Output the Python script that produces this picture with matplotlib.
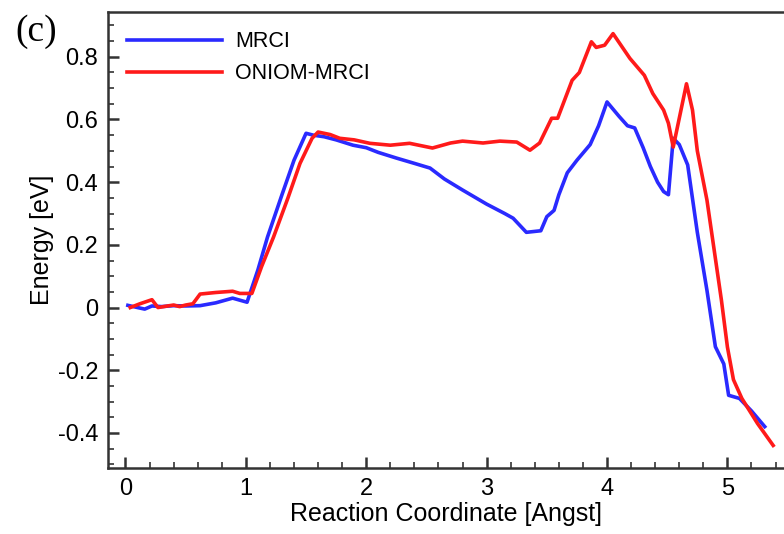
import matplotlib.pyplot as plt
import numpy as np

plt.rcParams['font.family'] = ['Liberation Sans', 'DejaVu Sans']
plt.rcParams['axes.unicode_minus'] = False

# MRCI energy profile along the reaction coordinate
mrci_x = [0.02, 0.10, 0.16, 0.22, 0.30, 0.40, 0.50, 0.62, 0.75, 0.89, 1.01,
          1.10, 1.18, 1.30, 1.40, 1.50, 1.56, 1.65, 1.75, 1.89, 2.00, 2.10,
          2.25, 2.40, 2.53, 2.65, 2.80, 3.00, 3.15, 3.22, 3.33, 3.45, 3.50,
          3.56, 3.60, 3.67, 3.75, 3.86, 3.93, 4.00, 4.10, 4.17, 4.23, 4.30,
          4.36, 4.42, 4.47, 4.51, 4.55, 4.60, 4.67, 4.75, 4.83, 4.90, 4.97,
          5.01, 5.10, 5.20, 5.31]
mrci_e = [0.007, 0.0, -0.005, 0.005, 0.003, 0.006, 0.005, 0.006, 0.015, 0.03, 0.017,
          0.12, 0.225, 0.36, 0.47, 0.556, 0.55, 0.545, 0.535, 0.518, 0.51, 0.495,
          0.477, 0.46, 0.445, 0.41, 0.375, 0.33, 0.30, 0.285, 0.24, 0.245, 0.29,
          0.31, 0.36, 0.43, 0.47, 0.52, 0.58, 0.656, 0.61, 0.58, 0.573, 0.51,
          0.45, 0.40, 0.37, 0.36, 0.54, 0.52, 0.455, 0.24, 0.055, -0.125, -0.18,
          -0.28, -0.29, -0.33, -0.38]

# ONIOM-MRCI energy profile
oniom_x = [0.04, 0.12, 0.22, 0.27, 0.35, 0.40, 0.45, 0.50, 0.56, 0.62, 0.75,
           0.89, 0.95, 1.05, 1.13, 1.23, 1.35, 1.45, 1.55, 1.60, 1.70, 1.78,
           1.90, 2.03, 2.20, 2.36, 2.55, 2.70, 2.80, 2.97, 3.11, 3.25, 3.36,
           3.44, 3.54, 3.59, 3.71, 3.77, 3.87, 3.91, 3.98, 4.05, 4.19, 4.31,
           4.38, 4.47, 4.51, 4.55, 4.66, 4.71, 4.75, 4.83, 4.95, 5.00, 5.05,
           5.12, 5.25, 5.38]
oniom_e = [0.0, 0.012, 0.025, 0.0, 0.005, 0.008, 0.003, 0.008, 0.012, 0.043, 0.048,
           0.052, 0.045, 0.045, 0.13, 0.225, 0.35, 0.46, 0.54, 0.56, 0.552, 0.54,
           0.535, 0.524, 0.518, 0.524, 0.509, 0.525, 0.531, 0.525, 0.531, 0.528, 0.502,
           0.525, 0.604, 0.604, 0.725, 0.75, 0.848, 0.83, 0.837, 0.874, 0.795, 0.741,
           0.683, 0.63, 0.588, 0.512, 0.714, 0.63, 0.5, 0.343, 0.024, -0.126, -0.23,
           -0.29, -0.37, -0.44]

xticks = [0, 1, 2, 3, 4, 5]
yticks = [-0.4, -0.2, 0, 0.2, 0.4, 0.6, 0.8]
ytick_labels = ["-0.4", "-0.2", "0", "0.2", "0.4", "0.6", "0.8"]

fig = plt.figure(figsize=(7.84, 5.34), dpi=100)
ax = fig.add_axes([108 / 784, 66 / 534, 676 / 784, 456 / 534])

ax.plot(mrci_x, mrci_e, color='#2a2aff', lw=2.6, label='MRCI')
ax.plot(oniom_x, oniom_e, color='#ff1a1a', lw=2.6, label='ONIOM-MRCI')

ax.set_xlim(-0.145, 5.47)
ax.set_ylim(-0.512, 0.943)
ax.set_xticks(xticks)
ax.set_xticklabels([str(t) for t in xticks])
ax.set_yticks(yticks)
ax.set_yticklabels(ytick_labels)
ax.set_xticks(np.arange(0, 5.41, 0.2), minor=True)
ax.set_yticks(np.arange(-0.5, 0.91, 0.05), minor=True)

ax.tick_params(which='both', direction='in', top=False, right=False,
               color='#333333', labelsize=17)
ax.tick_params(which='major', length=8, width=1.8, pad=7)
ax.tick_params(which='minor', length=4, width=1.2)

for side in ['left', 'bottom', 'top']:
    ax.spines[side].set_linewidth(1.8)
    ax.spines[side].set_color('#333333')
ax.spines['right'].set_visible(False)

ax.set_xlabel("Reaction Coordinate [Angst]", fontsize=18, labelpad=2)
ax.set_ylabel("Energy [eV]", fontsize=18, labelpad=3)

ax.legend(loc='upper left', frameon=False, fontsize=15.5, handlelength=4.4,
          borderaxespad=0.5, labelspacing=0.5, handletextpad=0.6)

fig.text(15 / 784, 1 - 32 / 534, "(c)", family='Liberation Serif', fontsize=27,
         va='center', ha='left')

fig.savefig("out.png", dpi=100)
